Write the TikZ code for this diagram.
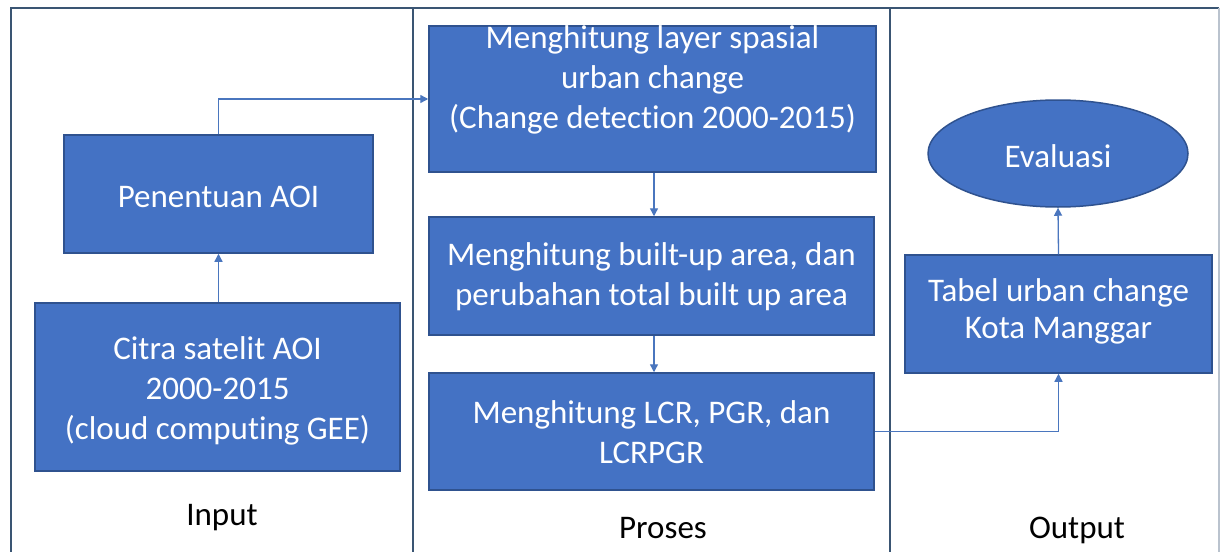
\documentclass[tikz,border=0pt]{standalone}
\usepackage{fontspec}
\setmainfont{Carlito}[Ligatures={NoCommon,NoRequired,NoContextual}]
\usetikzlibrary{arrows.meta,shapes.geometric}
\definecolor{boxfill}{HTML}{4472C4}
\definecolor{boxline}{HTML}{2F528F}
\definecolor{frameline}{HTML}{3A5573}
\definecolor{arrowc}{HTML}{4A76BE}
\tikzset{
  box/.style={draw=boxline, line width=1.5pt, fill=boxfill, inner sep=0pt},
  boxtext/.style={text=white, align=center, font=\fontsize{33}{40}\selectfont, inner sep=0pt},
  oval/.style={ellipse, draw=boxline, line width=1.5pt, fill=boxfill, inner sep=0pt},
  colabel/.style={text=black, font=\fontsize{33}{40}\selectfont, inner sep=0pt},
  conn/.style={draw=arrowc, line width=1.3pt, -{Triangle[width=8pt,length=8pt]}},
  frame/.style={draw=frameline, line width=2pt}
}
\begin{document}
\begin{tikzpicture}[x=1pt,y=-1pt]
\useasboundingbox (0,0) rectangle (1225,551);
\fill[white] (0,0) rectangle (1225,551);
% frame
\draw[frame] (11,553) -- (11,8) -- (1219,8);
\draw[draw=frameline!35, line width=1.5pt] (1219,8) -- (1219,553);
\draw[frame] (413,8) -- (413,553);
\draw[frame] (890,8) -- (890,553);
% input column
\node[box, minimum width=309, minimum height=118] (aoi) at (218.5,194) {};
\node[boxtext] (aoit) at (218.5,197) {Penentuan AOI};
\node[box, minimum width=365, minimum height=168] (citra) at (217.5,387) {};
\node[boxtext] (citrat) at (217.5,391) {Citra satelit AOI\\2000-2015\\(cloud computing GEE)};
\node[colabel] (input) at (222,518) {Input};
% process column
\node[box, minimum width=447, minimum height=146] (b1) at (652.5,99) {};
\node[boxtext] (b1t) at (652.5,80) {Menghitung layer spasial\\urban change\\(Change detection 2000-2015)};
\node[box, minimum width=445, minimum height=118] (b2) at (651.5,276) {};
\node[boxtext] (b2t) at (651.5,277) {Menghitung built-up area, dan\\perubahan total built up area};
\node[box, minimum width=445, minimum height=117] (b3) at (651.5,431.5) {};
\node[boxtext] (b3t) at (651.5,432) {Menghitung LCR, PGR, dan\\LCRPGR};
\node[colabel] (proses) at (663,528) {Proses};
% output column
\node[oval, minimum width=260, minimum height=107] (eval) at (1058,153.5) {};
\node[boxtext] (evalt) at (1058,156) {Evaluasi};
\node[box, minimum width=307, minimum height=118] (tabel) at (1058.5,314) {};
\node[boxtext, font=\fontsize{33}{37}\selectfont] (tabelt) at (1058.5,311) {Tabel urban change\\Kota Manggar};
\node[colabel] (output) at (1077,530) {Output};
% connectors
\draw[conn] (citra.north -| aoi.south) -- (aoi.south);
\draw[conn] (aoi.north) |- (b1.west);
\draw[conn] (b1.south -| 654,0) -- (b2.north -| 654,0);
\draw[conn] (b2.south -| 654,0) -- (b3.north -| 654,0);
\draw[conn] (b3.east) -| (tabel.south);
\draw[conn] (tabel.north) -- (eval.south);
\end{tikzpicture}
\end{document}
